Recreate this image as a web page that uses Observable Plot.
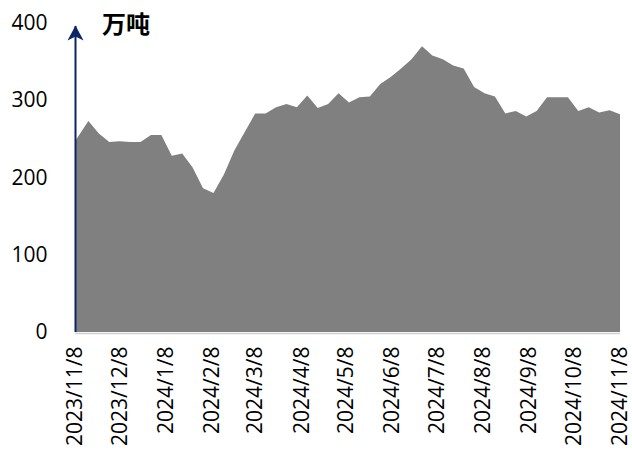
<!DOCTYPE html>
<html>
<head>
<meta charset="utf-8">
<script src="https://cdn.jsdelivr.net/npm/d3@7"></script>
<script src="https://cdn.jsdelivr.net/npm/@observablehq/plot@0.6"></script>
<style>
  html, body { margin: 0; padding: 0; background: #fff; }
  #wrap { position: relative; width: 632px; height: 454px; }
  #title { position: absolute; left: 102px; top: 9px; font-family: "Noto Sans CJK SC", sans-serif; font-weight: 700; font-size: 24px; line-height: 28px; color: #000; }
</style>
</head>
<body>
<div id="wrap"><div id="title">万吨</div></div>
<script>
const dates = [
  "2023-11-08","2023-11-17","2023-11-24","2023-12-01","2023-12-08","2023-12-15","2023-12-22","2023-12-29",
  "2024-01-05","2024-01-12","2024-01-19","2024-01-26","2024-02-02","2024-02-09","2024-02-16","2024-02-23",
  "2024-03-01","2024-03-08","2024-03-15","2024-03-22","2024-03-29","2024-04-05","2024-04-12","2024-04-19",
  "2024-04-26","2024-05-03","2024-05-10","2024-05-17","2024-05-24","2024-05-31","2024-06-07","2024-06-14",
  "2024-06-21","2024-06-28","2024-07-05","2024-07-12","2024-07-19","2024-07-26","2024-08-02","2024-08-09",
  "2024-08-16","2024-08-23","2024-08-30","2024-09-06","2024-09-13","2024-09-20","2024-09-27","2024-10-04",
  "2024-10-11","2024-10-18","2024-10-25","2024-11-01","2024-11-08"
];
const values = [
  247, 273, 257, 246, 247, 246, 246, 255,
  255, 228, 231, 213, 186, 180, 204, 235,
  259, 283, 283, 291, 295, 291, 306, 290,
  295, 309, 297, 304, 305, 321, 330, 341,
  353, 370, 358, 353, 345, 341, 317, 309,
  305, 283, 286, 279, 286, 304, 304, 304,
  286, 291, 284, 287, 282
];
const xTickLabels = ["2023/11/8","2023/12/8","2024/1/8","2024/2/8","2024/3/8","2024/4/8","2024/5/8","2024/6/8","2024/7/8","2024/8/8","2024/9/8","2024/10/8","2024/11/8"];
const yTicks = [0, 100, 200, 300, 400];
const unitTitle = "万吨";

const parseSlash = s => { const [y, m, d] = s.split("/").map(Number); return new Date(Date.UTC(y, m - 1, d)); };
const data = dates.map((d, i) => ({date: new Date(d + "T00:00:00Z"), value: values[i]}));
const xTicks = xTickLabels.map(parseSlash);
const fmt = d => `${d.getUTCFullYear()}/${d.getUTCMonth() + 1}/${d.getUTCDate()}`;
const navy = "#0b2566";
const start = xTicks[0];

const stealth = {
  draw(context, size) {
    const r = Math.sqrt(size / Math.PI);
    const k = r / 8;
    context.moveTo(0, 0);
    context.lineTo(-8 * k, 15 * k);
    context.lineTo(0, 11 * k);
    context.lineTo(8 * k, 15 * k);
    context.closePath();
  }
};

document.getElementById("title").textContent = unitTitle;

const chart = Plot.plot({
  width: 632,
  height: 454,
  marginLeft: 75,
  marginRight: 12,
  marginTop: 23,
  marginBottom: 122,
  x: {type: "utc", domain: [xTicks[0], xTicks[xTicks.length - 1]]},
  y: {domain: [0, 400]},
  style: {fontFamily: "'Open Sans', sans-serif", fontSize: "21px", color: "#000", background: "#fff"},
  marks: [
    Plot.areaY(data, {x: "date", y: "value", fill: "#808080"}),
    Plot.ruleY([0], {stroke: "#d0d0d0", strokeWidth: 1.5, dy: 1}),
    Plot.axisY({ticks: yTicks, tickSize: 0, tickPadding: 28, label: null, fontSize: 21}),
    Plot.axisX({ticks: xTicks, tickSize: 0, tickRotate: -90, tickPadding: 14, tickFormat: fmt, label: null, fontSize: 21}),
    Plot.ruleX([start], {y1: 0, y2: 396, stroke: navy, strokeWidth: 2}),
    Plot.dot([{x: start, y: 400}], {x: "x", y: "y", dy: 2, symbol: stealth, r: 8, fill: navy, stroke: "none"})
  ]
});
document.getElementById("wrap").appendChild(chart);
</script>
</body>
</html>
